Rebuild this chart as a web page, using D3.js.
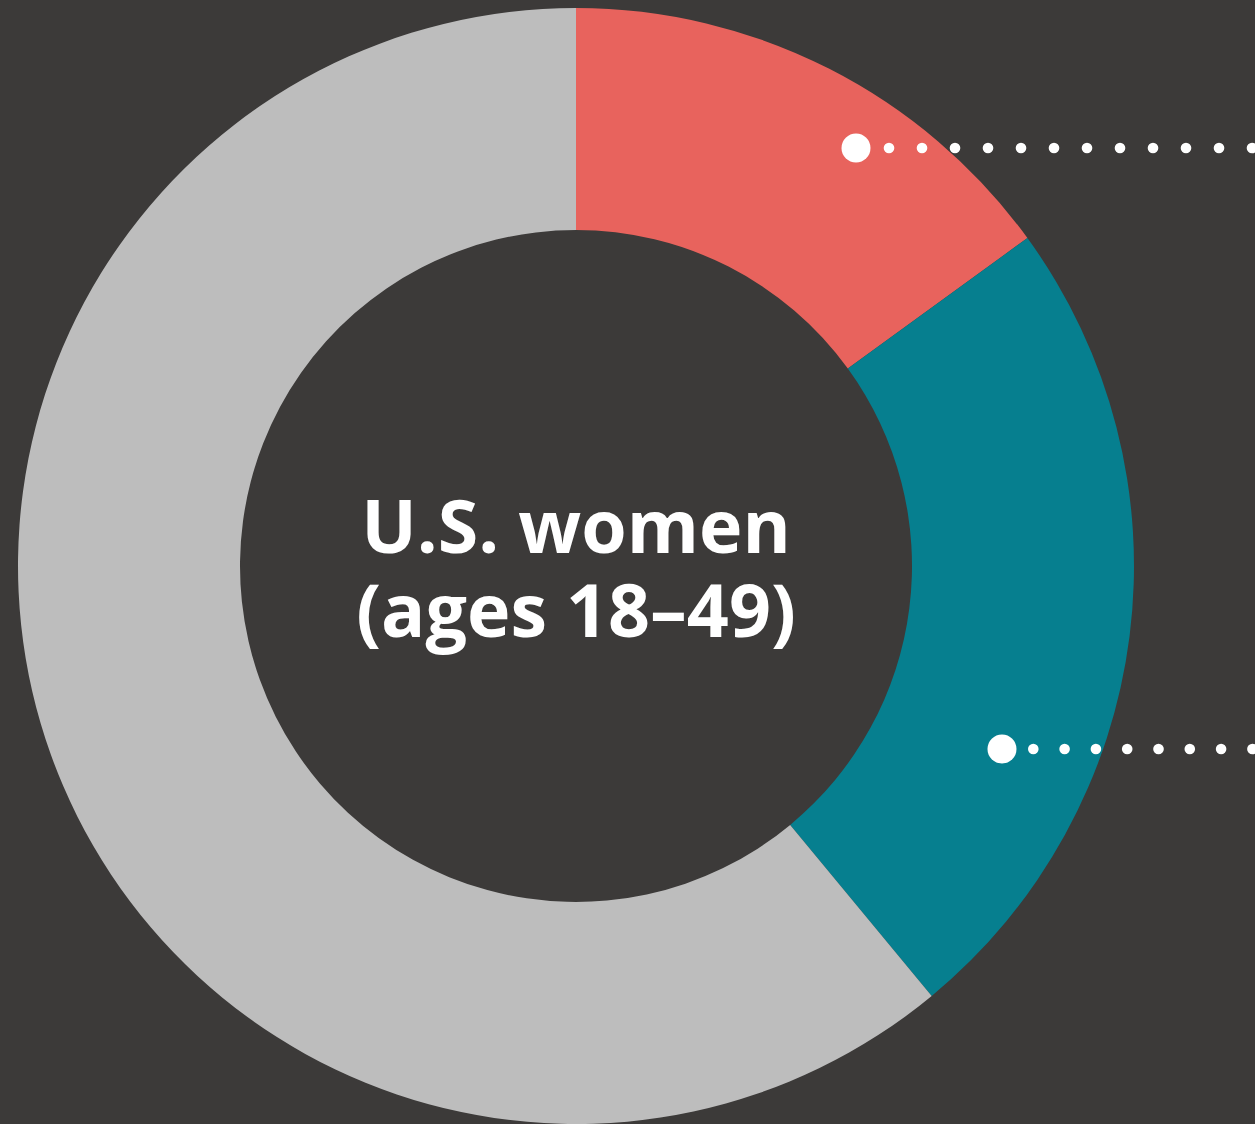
<!DOCTYPE html>
<html>
<head>
<meta charset="utf-8">
<script src="https://cdn.jsdelivr.net/npm/d3@7"></script>
<style>
html,body{margin:0;padding:0;background:#3c3a39;}
svg{display:block;}
</style>
</head>
<body>
<script>
const categories = ["Group A", "Group B", "Other"];
const values = [15, 24, 61];
const colors = ["#e8635d", "#067f8f", "#bdbdbd"];
const titleLines = ["U.S. women", "(ages 18–49)"];

const W = 1255, H = 1124;
const cx = 576, cy = 566, rOuter = 558, rInner = 336;

const svg = d3.select("body").append("svg").attr("width", W).attr("height", H);
svg.append("rect").attr("width", W).attr("height", H).attr("fill", "#3c3a39");

const pie = d3.pie().sort(null).value(d => d)(values);
const arc = d3.arc().innerRadius(rInner).outerRadius(rOuter);

const g = svg.append("g").attr("transform", `translate(${cx},${cy})`);
g.selectAll("path").data(pie).join("path")
  .attr("d", arc)
  .attr("fill", (d, i) => colors[i]);

const title = g.append("text")
  .attr("text-anchor", "middle")
  .attr("fill", "#ffffff")
  .attr("font-family", "'Open Sans', sans-serif")
  .attr("font-weight", 700)
  .attr("font-size", 73.5);
title.selectAll("tspan").data(titleLines).join("tspan")
  .attr("x", 0)
  .attr("y", (d, i) => -13 + i * 84)
  .text(d => d);

// Leader dots: anchor point on the slice, dotted to the right edge
const leaders = [
  { slice: 0, x0: 856, y: 148, gap: 33, count: 12 },
  { slice: 1, x0: 1002, y: 749, gap: 31.3, count: 8 }
];
leaders.forEach(l => {
  const lg = svg.append("g");
  lg.append("circle").attr("cx", l.x0).attr("cy", l.y).attr("r", 14.5).attr("fill", "#fff");
  lg.selectAll("circle.s").data(d3.range(l.count)).join("circle")
    .attr("class", "s")
    .attr("cx", k => l.x0 + l.gap * (k + 1))
    .attr("cy", l.y).attr("r", 5.3).attr("fill", "#fff");
});
</script>
</body>
</html>
